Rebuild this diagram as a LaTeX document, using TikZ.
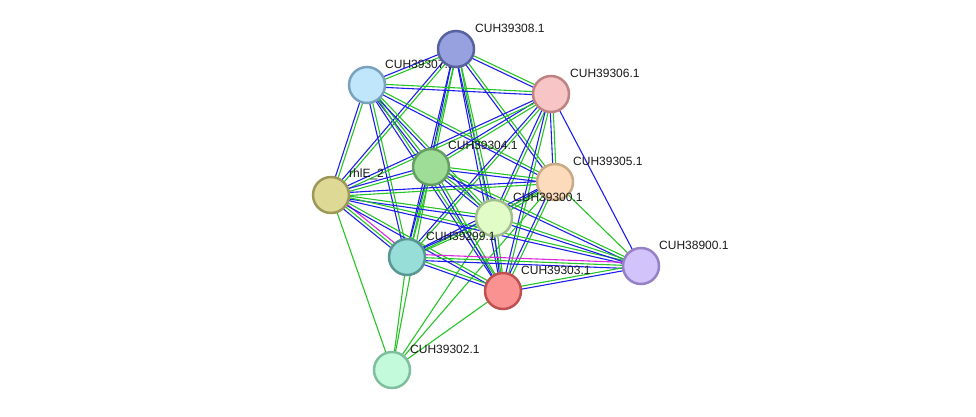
\documentclass[tikz,border=0pt]{standalone}
\usepackage{fontspec}
\setmainfont{Liberation Sans}
\usetikzlibrary{calc,backgrounds}
\definecolor{eg}{RGB}{40,195,40}
\definecolor{eb}{RGB}{30,30,235}
\definecolor{em}{RGB}{220,40,220}
\tikzset{
  prot/.style={circle,minimum size=36pt,inner sep=0pt,line width=2.5pt},
  lbl/.style={anchor=west,inner sep=0pt,font=\fontsize{12}{14}\selectfont,text=black!90},
  egl/.style={draw=eg,line width=1.1pt},
  ebl/.style={draw=eb,line width=1.1pt},
  eml/.style={draw=em,line width=1.1pt}
}
\newcommand\edgeGB[2]{%
  \draw[egl] ($(#1.center)!1.5pt!90:(#2.center)$) -- ($(#2.center)!1.5pt!-90:(#1.center)$);
  \draw[ebl] ($(#1.center)!1.5pt!-90:(#2.center)$) -- ($(#2.center)!1.5pt!90:(#1.center)$);}
\newcommand\edgeGBM[2]{%
  \draw[eml] ($(#1.center)!3pt!90:(#2.center)$) -- ($(#2.center)!3pt!-90:(#1.center)$);
  \draw[egl] (#1.center) -- (#2.center);
  \draw[ebl] ($(#1.center)!3pt!-90:(#2.center)$) -- ($(#2.center)!3pt!90:(#1.center)$);}
\newcommand\edgeG[2]{\draw[egl] (#1.center) -- (#2.center);}
\newcommand\edgeB[2]{\draw[ebl] (#1.center) -- (#2.center);}
\begin{document}
\begin{tikzpicture}[x=1pt,y=-1pt]
\useasboundingbox (0,0) rectangle (976,416);
% nodes
\node[prot,fill={rgb,255:red,192;green,230;blue,251},draw={rgb,255:red,122;green,162;blue,190}] (b) at (367,85) {};
\node[lbl] (lb) at ($(b)+(18,-21)$) {CUH39307.1};
\node[prot,fill={rgb,255:red,152;green,161;blue,223},draw={rgb,255:red,88;green,98;blue,158}] (a) at (456,49) {};
\node[prot,fill={rgb,255:red,247;green,197;blue,197},draw={rgb,255:red,190;green,130;blue,130}] (c) at (551,94) {};
\node[prot,fill={rgb,255:red,157;green,221;blue,151},draw={rgb,255:red,100;green,158;blue,98}] (d) at (431,167) {};
\node[prot,fill={rgb,255:red,252;green,219;blue,189},draw={rgb,255:red,200;green,170;blue,132}] (e) at (555,182) {};
\node[prot,fill={rgb,255:red,222;green,218;blue,150},draw={rgb,255:red,158;green,152;blue,88}] (f) at (331,195) {};
\node[prot,fill={rgb,255:red,226;green,252;blue,200},draw={rgb,255:red,162;green,190;blue,142}] (g) at (494,218) {};
\node[prot,fill={rgb,255:red,152;green,222;blue,216},draw={rgb,255:red,88;green,150;blue,148}] (h) at (407,257) {};
\node[prot,fill={rgb,255:red,250;green,146;blue,146},draw={rgb,255:red,190;green,80;blue,80}] (i) at (503,291) {};
\node[prot,fill={rgb,255:red,210;green,195;blue,250},draw={rgb,255:red,150;green,128;blue,198}] (j) at (641,266) {};
\node[prot,fill={rgb,255:red,195;green,250;blue,220},draw={rgb,255:red,128;green,190;blue,160}] (k) at (392,370) {};
% edges
\begin{scope}[on background layer]
\edgeGB{a}{b}\edgeGB{a}{c}\edgeGB{a}{d}\edgeGB{a}{e}\edgeGB{a}{f}\edgeGB{a}{g}\edgeGB{a}{h}\edgeGB{a}{i}
\edgeGB{b}{c}\edgeGB{b}{d}\edgeGB{b}{e}\edgeGB{b}{f}\edgeGB{b}{g}\edgeGB{b}{h}\edgeGB{b}{i}
\edgeGB{c}{d}\edgeGB{c}{e}\edgeGB{c}{f}\edgeGB{c}{g}\edgeGB{c}{h}\edgeGB{c}{i}\edgeB{c}{j}
\edgeGB{d}{e}\edgeGB{d}{f}\edgeGB{d}{g}\edgeGB{d}{h}\edgeGB{d}{i}\edgeGB{d}{j}\edgeG{d}{k}
\edgeGB{e}{f}\edgeGB{e}{g}\edgeGB{e}{h}\edgeGB{e}{i}\edgeG{e}{j}\edgeG{e}{k}
\edgeGB{f}{g}\edgeGBM{f}{h}\edgeGB{f}{i}\edgeGB{f}{j}\edgeG{f}{k}
\edgeGB{g}{h}\edgeGB{g}{i}\edgeGB{g}{j}\edgeG{g}{k}
\edgeGB{h}{i}\edgeGBM{h}{j}\edgeG{h}{k}
\edgeGB{i}{j}\edgeG{i}{k}
\end{scope}
% labels
\node[lbl] (la) at ($(a)+(19,-21)$) {CUH39308.1};
\node[lbl] (lc) at ($(c)+(19,-21)$) {CUH39306.1};
\node[lbl] (ld) at ($(d)+(17,-22)$) {CUH39304.1};
\node[lbl] (le) at ($(e)+(18,-21)$) {CUH39305.1};
\node[lbl] (lf) at ($(f)+(18,-21)$) {rhlE\_2};
\node[lbl] (lg) at ($(g)+(19,-21)$) {CUH39300.1};
\node[lbl] (lh) at ($(h)+(19,-21)$) {CUH39299.1};
\node[lbl] (li) at ($(i)+(18,-21)$) {CUH39303.1};
\node[lbl] (lj) at ($(j)+(18,-21)$) {CUH38900.1};
\node[lbl] (lk) at ($(k)+(18,-21)$) {CUH39302.1};
\end{tikzpicture}
\end{document}
